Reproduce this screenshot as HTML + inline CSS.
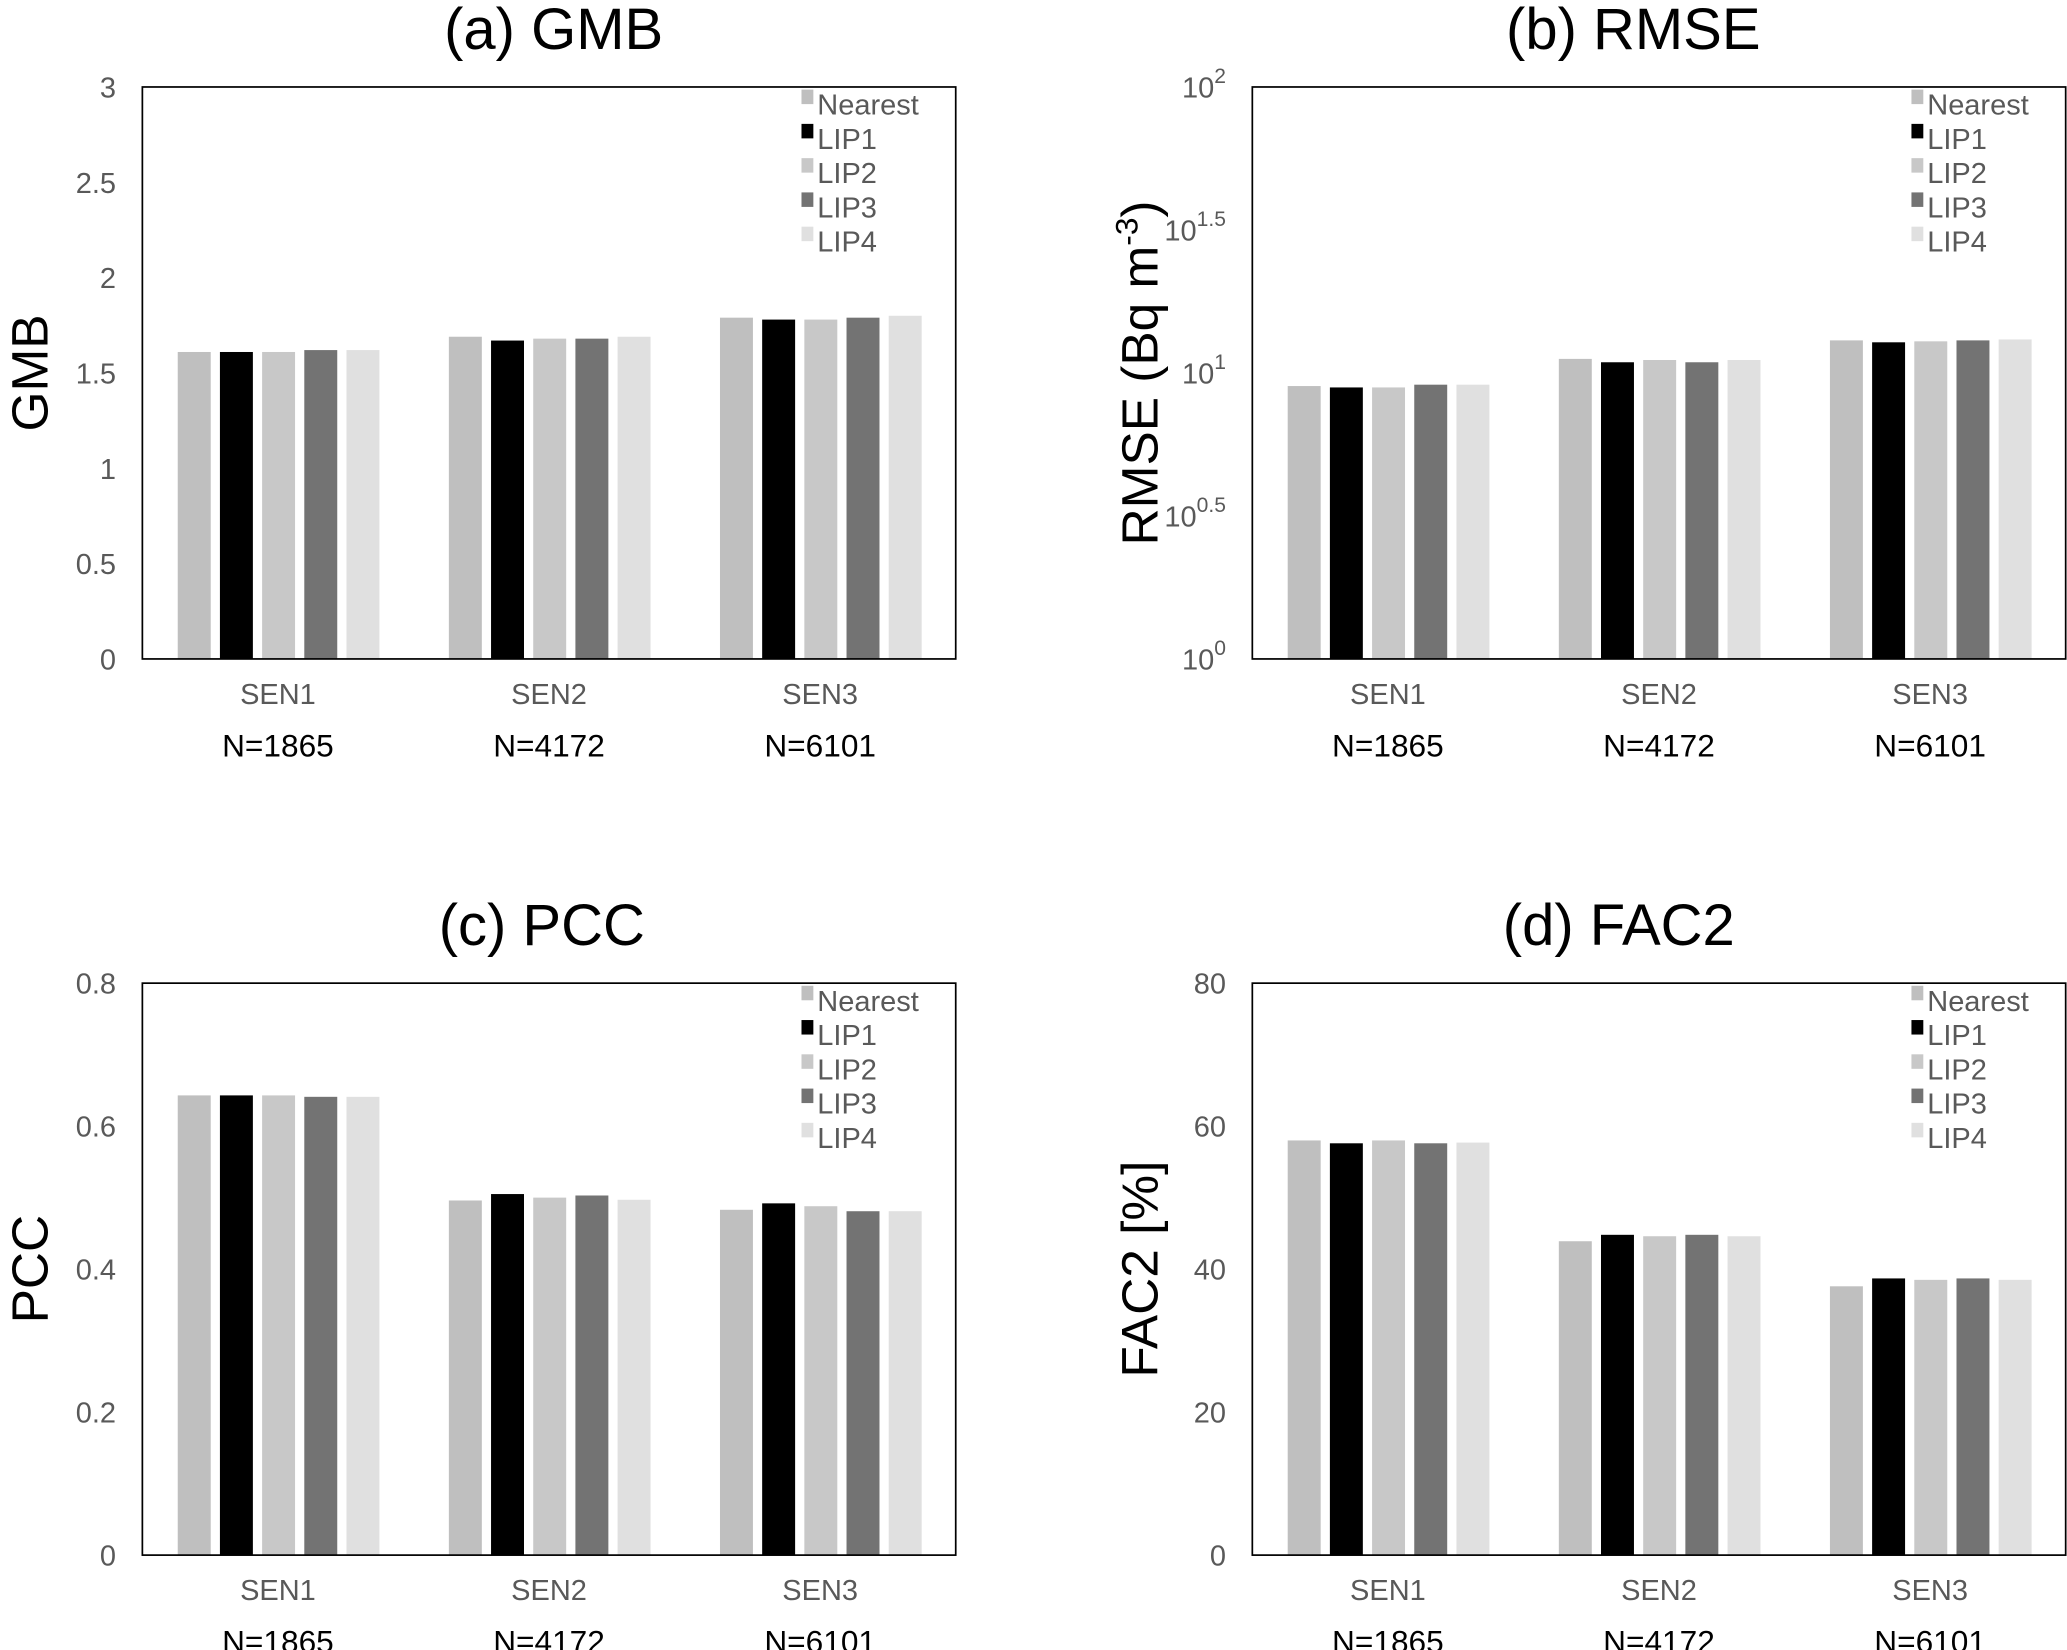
<!DOCTYPE html>
<html><head><meta charset="utf-8"><style>
html,body{margin:0;padding:0;background:#fff;}
svg{display:block;font-family:"Liberation Sans",Arial,sans-serif;}
</style></head><body>
<svg id="fig" width="2067" height="1650" viewBox="0 0 1568 1252" preserveAspectRatio="none" xmlns="http://www.w3.org/2000/svg"></svg>
<script>
const categories = ["SEN1","SEN2","SEN3"];
const sampleSizes = ["N=1865","N=4172","N=6101"];
const seriesNames = ["Nearest","LIP1","LIP2","LIP3","LIP4"];
const seriesColors = ["#bfbfbf","#000000","#c8c8c8","#737373","#e0e0e0"];
const gmbValues = [[1.61,1.61,1.61,1.62,1.62],[1.69,1.67,1.68,1.68,1.69],[1.79,1.78,1.78,1.79,1.80]];
const rmseValues = [[9.0,8.9,8.9,9.1,9.1],[11.2,10.9,11.1,10.9,11.1],[13.0,12.8,12.9,13.0,13.1]];
const pccValues = [[0.643,0.643,0.643,0.641,0.641],[0.496,0.505,0.500,0.503,0.497],[0.483,0.492,0.488,0.481,0.481]];
const fac2Values = [[58.0,57.6,58.0,57.6,57.7],[43.9,44.8,44.6,44.8,44.6],[37.6,38.7,38.5,38.7,38.5]];
const gmbTicks = [0,0.5,1,1.5,2,2.5,3];
const rmseTicks = [0,0.5,1,1.5,2];
const pccTicks = [0,0.2,0.4,0.6,0.8];
const fac2Ticks = [0,20,40,60,80];

const NS="http://www.w3.org/2000/svg";
const svg=document.getElementById('fig');
function mk(tag,attrs,parent){const e=document.createElementNS(NS,tag);for(const k in attrs)e.setAttribute(k,attrs[k]);(parent||svg).appendChild(e);return e;}

function panel(o){
  const g=mk('g',{});
  
  
  const L=o.left,R=o.left+617,T=o.top,B=o.top+434;
  const yScale=v=>{const t=o.log?Math.log10(v):v;return B-(t-o.min)/(o.max-o.min)*(B-T);};
  const tickY=v=>B-(v-o.min)/(o.max-o.min)*(B-T);
  const t=mk('text',{x:o.titleX,y:T-29,'text-anchor':'middle','font-size':44,fill:'#000'},g);
  t.textContent=o.title;
  
  
  const yt=mk('text',{x:0,y:0,'text-anchor':'middle','font-size':39,fill:'#000',transform:`translate(${L-72},${(T+B)/2}) rotate(-90)`},g);
  
  
  if(o.key==='rmse'){yt.appendChild(document.createTextNode('RMSE (Bq m'));const s=mk('tspan',{'font-size':24,dy:-15},yt);s.textContent='-3';const s2=mk('tspan',{dy:15},yt);s2.textContent=')';}
  else yt.textContent=o.ytitle;
  o.ticks.forEach(v=>{
    const y=tickY(v);
    const tl=mk('text',{x:L-20,y:y+8,'text-anchor':'end','font-size':22,fill:'#595959'},g);
    
    
    if(o.log){tl.appendChild(document.createTextNode('10'));const s=mk('tspan',{'font-size':16,dy:-11},tl);s.textContent=String(v);}
    else tl.textContent=String(v);
  });
  const gw=617/3;
  o.values.forEach((grp,i)=>{
    const cx=L+gw*(i+0.5);
    grp.forEach((v,j)=>{
      const x=cx-76+j*32;
      const y=yScale(v);
      const r=mk('rect',{x:x,y:y,width:25,height:B-y,fill:seriesColors[j]},g);
      
      
    });
    const c=mk('text',{x:cx,y:B+34,'text-anchor':'middle','font-size':22,fill:'#595959'},g);
    c.textContent=categories[i];
    
    
    const n=mk('text',{x:cx,y:B+74,'text-anchor':'middle','font-size':24,fill:'#000'},g);
    n.textContent=sampleSizes[i];
    
    
  });
  const f=mk('rect',{x:L,y:T,width:617,height:434,fill:'none',stroke:'#000','stroke-width':1.3},g);
  
  
  seriesNames.forEach((nm,j)=>{
    const y=T+13+26*j;
    const sq=mk('rect',{x:R-117,y:y-11,width:9,height:11,fill:seriesColors[j]},g);
    
    
    const lt=mk('text',{x:R-105,y:y+8,'font-size':22,fill:'#595959'},g);
    lt.textContent=nm;
    
    
  });
}
panel({key:'gmb',title:'(a) GMB',ytitle:'GMB',left:108,top:66,titleX:420,min:0,max:3,ticks:gmbTicks,values:gmbValues});
panel({key:'rmse',title:'(b) RMSE',ytitle:'RMSE',left:950,top:66,titleX:1239,min:0,max:2,log:true,ticks:rmseTicks,values:rmseValues});
panel({key:'pcc',title:'(c) PCC',ytitle:'PCC',left:108,top:746,titleX:411,min:0,max:0.8,ticks:pccTicks,values:pccValues});
panel({key:'fac2',title:'(d) FAC2',ytitle:'FAC2 [%]',left:950,top:746,titleX:1228,min:0,max:80,ticks:fac2Ticks,values:fac2Values});
</script>
</body></html>
